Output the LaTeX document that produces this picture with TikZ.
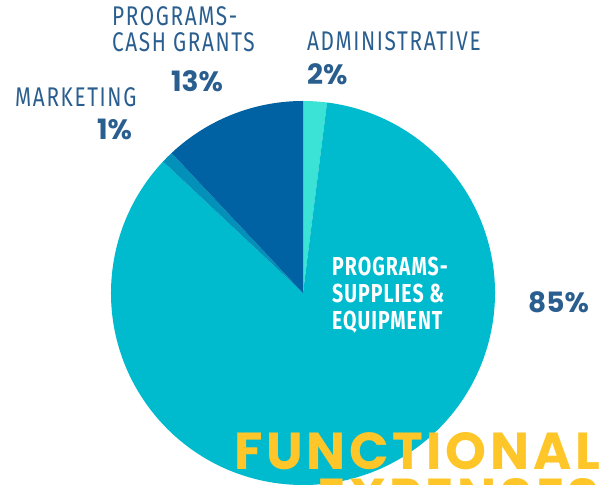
\documentclass[tikz,border=0pt]{standalone}
\usepackage{fontspec}
\setmainfont{Fira Sans}
\newfontfamily\labelfont[FakeStretch=0.77,LetterSpace=6]{Fira Sans}
\newfontfamily\insidefont[FakeStretch=0.75,LetterSpace=4]{Fira Sans}
\newfontfamily\pctfont{Poppins}
\newfontfamily\titlefont[LetterSpace=7]{Poppins}
\definecolor{adminclr}{HTML}{3AE3D5}
\definecolor{supplyclr}{HTML}{00BACD}
\definecolor{marketclr}{HTML}{0391BA}
\definecolor{cashclr}{HTML}{0062A2}
\definecolor{labelblue}{HTML}{2A5E8F}
\definecolor{titleyellow}{HTML}{FFC629}
\begin{document}
\begin{tikzpicture}[x=1pt,y=1pt,
    catlabel/.style={text=labelblue, font=\labelfont\fontsize{27}{26}\selectfont, align=left, inner sep=0pt, anchor=north west},
    pctlabel/.style={text=labelblue, font=\pctfont\bfseries\fontsize{28}{28}\selectfont, inner sep=0pt, anchor=west},
]
    \useasboundingbox (0,0) rectangle (604,484);
    \clip (0,0) rectangle (604,484);

    % pie centre and radius
    \coordinate (c) at (303,191);
    \def\rad{192}

    % slices, clockwise from the top
    \fill[adminclr] (c) -- ++(90:\rad) arc[start angle=90, end angle=82.8, radius=\rad] -- cycle; % 2%
    \fill[supplyclr] (c) -- ++(82.8:\rad) arc[start angle=82.8, end angle=-223.2, radius=\rad] -- cycle; % 85%
    \fill[marketclr] (c) -- ++(136.8:\rad) arc[start angle=136.8, end angle=133.2, radius=\rad] -- cycle; % 1%
    \fill[cashclr] (c) -- ++(133.2:\rad) arc[start angle=133.2, end angle=90, radius=\rad] -- cycle; % 13%

    % category labels
    \node[catlabel] (cashlabel) at (112,478) {PROGRAMS-\\CASH GRANTS};
    \node[pctlabel] (cashpct) at (171,403) {13\%};

    \node[catlabel] (adminlabel) at (307,453) {ADMINISTRATIVE};
    \node[pctlabel] (adminpct) at (307,410) {2\%};

    \node[catlabel] (marketlabel) at (15,397) {MARKETING};
    \node[pctlabel] (marketpct) at (97,355) {1\%};

    \node[catlabel, text=white, font=\insidefont\bfseries\fontsize{26}{27}\selectfont] (supplylabel) at (332,227) {PROGRAMS-\\SUPPLIES \&\\EQUIPMENT};
    \node[pctlabel] (supplypct) at (528,182) {85\%};

    % title, cut by the page edge
    \node[text=titleyellow, font=\titlefont\bfseries\fontsize{52}{46}\selectfont, align=right, inner sep=0pt, anchor=north east] (title) at (600,51.5) {FUNCTIONAL\\EXPENSES};
\end{tikzpicture}
\end{document}
